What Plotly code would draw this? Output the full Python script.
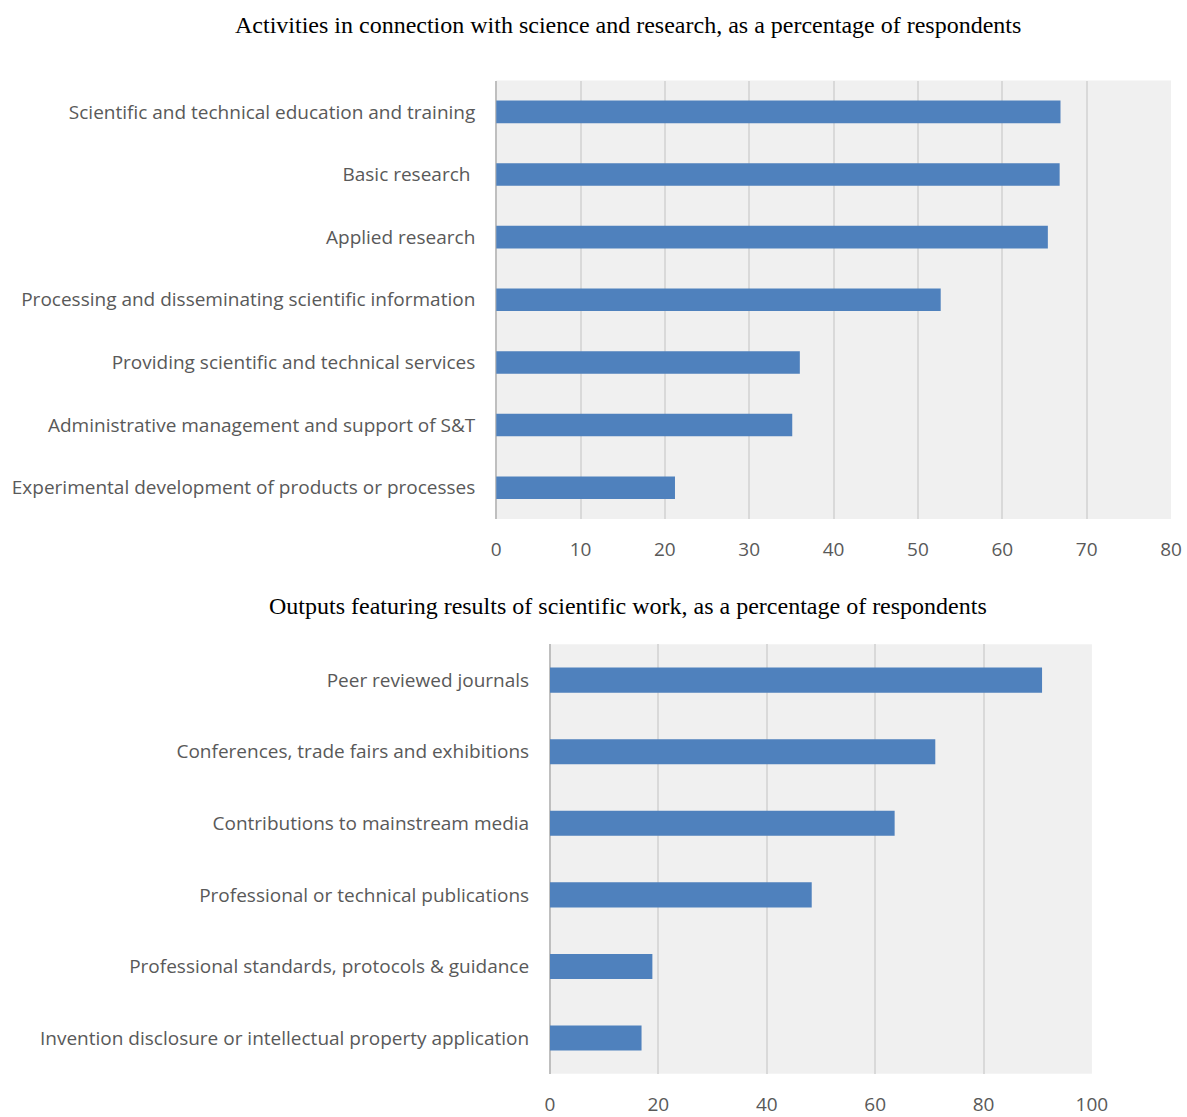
import plotly.graph_objects as go

# Activities in connection with science and research (% of respondents)
activity_labels = [
    "Scientific and technical education and training",
    "Basic research ",
    "Applied research",
    "Processing and disseminating scientific information",
    "Providing scientific and technical services",
    "Administrative management and support of S&T",
    "Experimental development of products or processes",
]
activity_values = [66.9, 66.8, 65.4, 52.7, 36.0, 35.1, 21.2]

# Outputs featuring results of scientific work (% of respondents)
output_labels = [
    "Peer reviewed journals",
    "Conferences, trade fairs and exhibitions",
    "Contributions to mainstream media",
    "Professional or technical publications",
    "Professional standards, protocols & guidance",
    "Invention disclosure or intellectual property application",
]
output_values = [90.8, 71.1, 63.6, 48.3, 18.9, 16.9]

W, H = 1187, 1117
BAR = "#4f81bd"
TXT = "#595959"
GRID = "#d9d9d9"
PLOT_BG = "#f0f0f0"
LABEL_FONT = dict(family="Open Sans, sans-serif", size=19, color=TXT)
TITLE_FONT = dict(family="Liberation Serif, Times New Roman, serif", size=24, color="black")


def px_x(p):
    # horizontal pixel position -> paper fraction
    return min(1.0, (p - 2) / 0.986 / W)


def px_y(p):
    # vertical pixel position (from top) -> paper fraction
    return max(0.0, 1 - (p / 0.994) / H)


fig = go.Figure()

fig.add_trace(go.Bar(
    x=activity_values, y=activity_labels, orientation="h",
    marker=dict(color=BAR, line=dict(width=0)),
    xaxis="x", yaxis="y", width=0.36, hoverinfo="x+y",
))
fig.add_trace(go.Bar(
    x=output_values, y=output_labels, orientation="h",
    marker=dict(color=BAR, line=dict(width=0)),
    xaxis="x2", yaxis="y2", width=0.35, hoverinfo="x+y",
))

common_x = dict(
    showgrid=True, gridcolor=GRID, gridwidth=1.5,
    zeroline=True, zerolinecolor="#bfbfbf", zerolinewidth=1.5,
    showline=False, ticks="", tickfont=LABEL_FONT, fixedrange=True,
)
common_y = dict(
    autorange="reversed", showgrid=False, zeroline=False, showline=False,
    ticks="outside", ticklen=16, tickcolor="rgba(0,0,0,0)",
    tickfont=LABEL_FONT, fixedrange=True,
)

fig.update_layout(
    width=W, height=H,
    margin=dict(l=0, r=0, t=0, b=0),
    paper_bgcolor="white",
    showlegend=False,
    xaxis=dict(domain=[px_x(495), px_x(1173)], range=[0, 80], dtick=10,
               anchor="y", ticklabelstandoff=17, **common_x),
    yaxis=dict(domain=[px_y(522), px_y(81)], anchor="x", **common_y),
    xaxis2=dict(domain=[px_x(549), px_x(1093)], range=[0, 100], dtick=20,
                anchor="y2", ticklabelstandoff=17, **common_x),
    yaxis2=dict(domain=[px_y(1080), px_y(648)], anchor="x2", **common_y),
    annotations=[
        dict(text="Activities in connection with science and research, as a percentage of respondents",
             x=px_x(627), y=px_y(25), xref="paper", yref="paper",
             xanchor="center", yanchor="middle", showarrow=False, font=TITLE_FONT),
        dict(text="Outputs featuring results of scientific work, as a percentage of respondents",
             x=px_x(627), y=px_y(609), xref="paper", yref="paper",
             xanchor="center", yanchor="middle", showarrow=False, font=TITLE_FONT),
    ],
    shapes=[
        dict(type="rect", xref="paper", yref="paper",
             x0=px_x(495), x1=px_x(1173), y0=px_y(522), y1=px_y(81),
             fillcolor=PLOT_BG, line=dict(width=0), layer="below"),
        dict(type="rect", xref="paper", yref="paper",
             x0=px_x(549), x1=px_x(1093), y0=px_y(1080), y1=px_y(648),
             fillcolor=PLOT_BG, line=dict(width=0), layer="below"),
    ],
    plot_bgcolor="rgba(0,0,0,0)",
)

fig.write_html("out.html")
